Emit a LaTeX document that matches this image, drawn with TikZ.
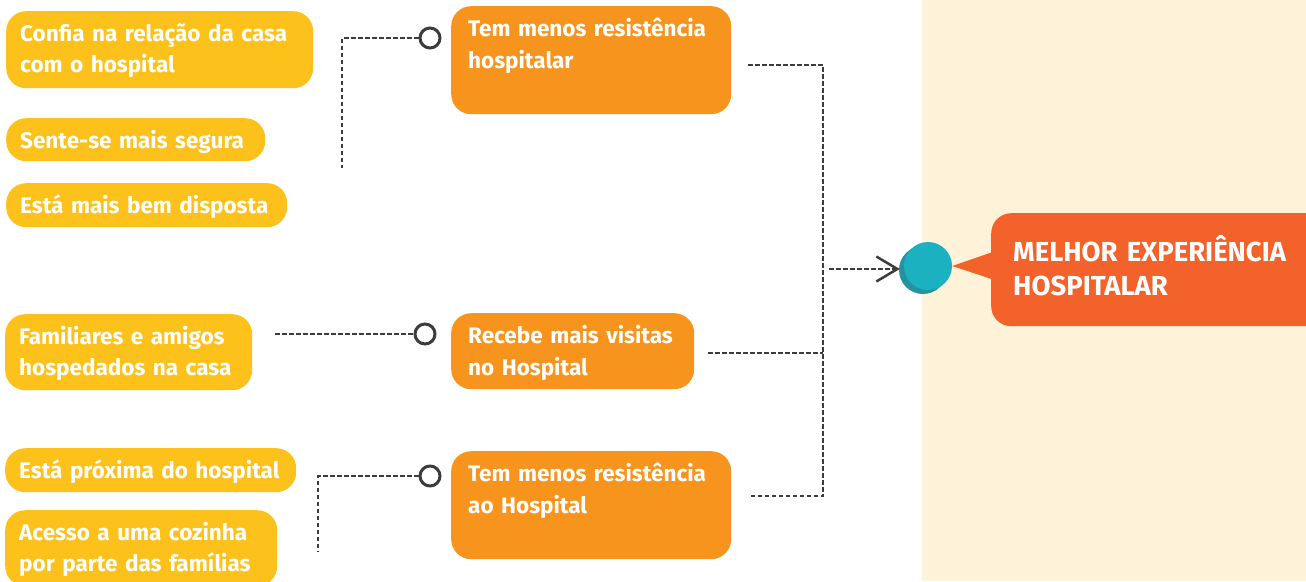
\documentclass[tikz,border=0pt]{standalone}
\usepackage{fontspec}
\setmainfont{Fira Sans}
\usetikzlibrary{positioning,arrows.meta}
\hyphenpenalty=10000

\definecolor{boxyellow}{HTML}{FCC11B}
\definecolor{boxorange}{HTML}{F7941D}
\definecolor{boxred}{HTML}{F2622A}
\definecolor{creamside}{HTML}{FEF3D8}
\definecolor{tealdot}{HTML}{1CB1C1}
\definecolor{tealshade}{HTML}{23939F}
\definecolor{linegray}{HTML}{3C3C3C}

\begin{document}
\begin{tikzpicture}[x=1pt,y=-1pt,
    yellowbox/.style={fill=boxyellow, text=white, rounded corners=20pt, anchor=north west,
      align=left, inner xsep=14pt, inner ysep=0pt, text height=30pt,
      font=\fontsize{22.5}{31}\selectfont\bfseries},
    orangebox/.style={fill=boxorange, text=white, rounded corners=20pt, anchor=north west,
      align=left, inner xsep=17pt, inner ysep=0pt, text height=30pt,
      font=\fontsize{22.5}{32}\selectfont\bfseries},
    resultbox/.style={fill=boxred, text=white, rounded corners=20pt, anchor=north west,
      align=left, inner xsep=22pt, inner ysep=0pt, text height=48pt, text depth=65pt,
      font=\fontsize{27.5}{34}\selectfont\bfseries},
    endring/.style={circle, draw=linegray, line width=3pt, fill=white, minimum size=20pt, inner sep=0pt},
    dottedlink/.style={draw=linegray, line width=2.5pt, dash pattern=on 4.5pt off 2.5pt}]

    \useasboundingbox (0,0) rectangle (1306,581);
    \fill[creamside] (922,0) rectangle (1306,581);

    % column 1
    \node[yellowbox, text width=279pt, text depth=47pt] (y1) at (6,11) {Confia na relação da casa\\com o hospital};
    \node[yellowbox, text width=231pt, text depth=13pt] (y2) at (6,118) {Sente-se mais segura};
    \node[yellowbox, text width=253pt, text depth=14pt] (y3) at (6,183) {Está mais bem disposta};
    \node[yellowbox, text width=219pt, text depth=46pt] (y4) at (5,314) {Familiares e amigos\\hospedados na casa};
    \node[yellowbox, text width=263pt, text depth=14pt] (y5) at (5,448) {Está próxima do hospital};
    \node[yellowbox, text width=244pt, text depth=46pt] (y6) at (5,510) {Acesso a uma cozinha\\por parte das famílias};

    % column 2
    \node[orangebox, text width=246pt, text depth=78pt] (o1) at (451,6) {Tem menos resistência\\hospitalar};
    \node[orangebox, text width=209pt, text depth=46pt] (o2) at (451,313) {Recebe mais visitas\\no Hospital};
    \node[orangebox, text width=246pt, text depth=78pt] (o3) at (451,451) {Tem menos resistência\\ao Hospital};

    % rings
    \node[endring] (c1) at (430,38) {};
    \node[endring] (c2) at (425,334) {};
    \node[endring] (c3) at (430,476) {};

    % free ends
    \coordinate (g1) at (342,168);
    \coordinate (g2) at (275,334);
    \coordinate (g3) at (318,552);
    \coordinate (r1) at (748,65);
    \coordinate (r2) at (708,353);
    \coordinate (r3) at (748,496);
    \coordinate (t) at (823,269);

    % result
    \node[resultbox, text width=300pt] (res) at (991,213) {MELHOR EXPERIÊNCIA\\HOSPITALAR};
    \fill[tealshade] (923,270) circle (24);
    \node[circle, fill=tealdot, minimum size=48pt, inner sep=0pt] (dot) at (928,266) {};
    \fill[boxred] (dot.east) -- ([xshift=4pt,yshift=18.5pt]res.west) -- ([xshift=4pt,yshift=-10.5pt]res.west) -- cycle;

    \draw[dottedlink] (c1) -- (c1 -| g1) -- (g1);
    \draw[dottedlink] (g2) -- (c2);
    \draw[dottedlink] (c3) -- (c3 -| g3) -- (g3);
    \draw[dottedlink] (r1) -- (r1 -| t) -- (r3 -| t) -- (r3);
    \draw[dottedlink] (r2) -- (r2 -| t);
    \draw[dottedlink, -{Straight Barb[length=21pt,width=25pt,line width=2.5pt]}, shorten <=6pt, shorten >=4pt] (t) -- (t -| dot.west);

  \end{tikzpicture}
\end{document}
